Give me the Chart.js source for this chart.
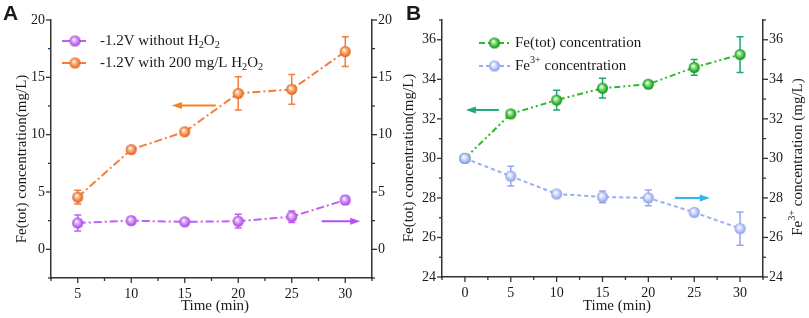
<!DOCTYPE html>
<html>
<head>
<meta charset="utf-8">
<script src="https://cdn.jsdelivr.net/npm/chart.js@4.4.0/dist/chart.umd.min.js"></script>
<style>
    html, body { margin: 0; padding: 0; background: #fff; }
    #wrap { position: relative; width: 809px; height: 318px; }
    #boxA { position: absolute; left: 0; top: 0; width: 400px; height: 318px; }
    #boxB { position: absolute; left: 400px; top: 0; width: 409px; height: 318px; }
</style>
</head>
<body>
<div id="wrap">
    <div id="boxA"><canvas id="chartA"></canvas></div>
    <div id="boxB"><canvas id="chartB"></canvas></div>
</div>
<script>
// Painel A
const timeA = [5, 10, 15, 20, 25, 30];
const noH2O2 = [2.3, 2.5, 2.4, 2.45, 2.85, 4.3];
const noH2O2Err = [0.7, 0.3, 0.15, 0.6, 0.5, 0.35];
const withH2O2 = [4.55, 8.7, 10.25, 13.6, 13.95, 17.25];
const withH2O2Err = [0.6, 0.15, 0.1, 1.45, 1.3, 1.3];
const arrowAFrom = [17.9, 27.8];
const arrowATo = [13.8, 31.4];
const arrowAY = [12.55, 2.45];

// Painel B
const timeB = [0, 5, 10, 15, 20, 25, 30];
const feTot = [30.0, 32.25, 32.95, 33.55, 33.75, 34.6, 35.25];
const feTotErr = [0, 0.08, 0.5, 0.5, 0.18, 0.4, 0.9];
const fe3 = [30.0, 29.1, 28.2, 28.05, 28.0, 27.27, 26.45];
const fe3Err = [0, 0.5, 0.06, 0.3, 0.4, 0.12, 0.84];
const arrowBFrom = [3.7, 22.9];
const arrowBTo = [0.1, 26.7];
const arrowBY = [32.45, 28.0];

const SERIF = '"Liberation Serif", "Times New Roman", serif';

const toPoints = (xs, ys) => xs.map((x, i) => ({ x, y: ys[i] }));

// bolinha com brilho (estilo do Origin)
const ball = (light, base, dark, r) => {
    const c = document.createElement('canvas');
    const s = Math.ceil(r * 2 + 2);
    c.width = s; c.height = s;
    const g = c.getContext('2d');
    const grd = g.createRadialGradient(s / 2 - r * 0.25, s / 2 - r * 0.3, r * 0.05, s / 2, s / 2, r);
    grd.addColorStop(0, '#ffffff');
    grd.addColorStop(0.3, light);
    grd.addColorStop(0.75, base);
    grd.addColorStop(1, dark);
    g.fillStyle = grd;
    g.beginPath();
    g.arc(s / 2, s / 2, r, 0, Math.PI * 2);
    g.fill();
    return c;
};

const ballPurple = ball('#e2b5fb', '#c067f2', '#9b3fd6', 5.5);
const ballOrange = ball('#fbc39a', '#f27d3a', '#d9601d', 5.5);
const ballGreen = ball('#9fe39f', '#2eb52e', '#178a17', 5.5);
const ballBlue = ball('#dfe6ff', '#a9b8f6', '#8295e8', 5.5);

// desenha texto com sub/sobrescritos
const runsWidth = (ctx, runs, size) => runs.reduce((w, r) => {
    ctx.font = `${r[1] ? size * 0.68 : size}px ${SERIF}`;
    return w + ctx.measureText(r[0]).width;
}, 0);

const drawRuns = (ctx, runs, x, y, size) => {
    let cx = x;
    runs.forEach(r => {
        ctx.font = `${r[1] ? size * 0.68 : size}px ${SERIF}`;
        const dy = r[1] === 'sub' ? size * 0.28 : r[1] === 'sup' ? -size * 0.38 : 0;
        ctx.fillText(r[0], cx, y + dy);
        cx += ctx.measureText(r[0]).width;
    });
};

const errorBars = {
    id: 'errorBars',
    beforeDatasetsDraw(chart) {
        const ctx = chart.ctx;
        chart.data.datasets.forEach((ds, i) => {
            if (!ds.errors) return;
            const meta = chart.getDatasetMeta(i);
            const ys = chart.scales[ds.yAxisID];
            ctx.save();
            ctx.strokeStyle = ds.errorColor;
            ctx.lineWidth = 1.5;
            meta.data.forEach((pt, j) => {
                const e = ds.errors[j];
                if (!e) return;
                const v = ds.data[j].y;
                const top = ys.getPixelForValue(v + e);
                const bot = ys.getPixelForValue(v - e);
                ctx.beginPath();
                ctx.moveTo(pt.x, top); ctx.lineTo(pt.x, bot);
                ctx.moveTo(pt.x - 3.5, top); ctx.lineTo(pt.x + 3.5, top);
                ctx.moveTo(pt.x - 3.5, bot); ctx.lineTo(pt.x + 3.5, bot);
                ctx.stroke();
            });
            ctx.restore();
        });
    }
};

// ticks maiores e menores, desenhados à mão
const axisTicks = {
    id: 'axisTicks',
    afterDraw(chart, args, opts) {
        const ctx = chart.ctx;
        ctx.save();
        ctx.strokeStyle = '#333';
        ctx.lineWidth = 1.3;
        Object.values(chart.scales).forEach(sc => {
            const major = opts.majors[sc.id];
            sc.ticks.forEach(t => {
                const q = t.value / major;
                const len = Math.abs(q - Math.round(q)) < 1e-6 ? 5 : 3;
                const p = sc.getPixelForValue(t.value);
                ctx.beginPath();
                if (sc.axis === 'x') { ctx.moveTo(p, sc.top); ctx.lineTo(p, sc.top + len); }
                else if (sc.position === 'left') { ctx.moveTo(sc.right, p); ctx.lineTo(sc.right - len, p); }
                else { ctx.moveTo(sc.left, p); ctx.lineTo(sc.left + len, p); }
                ctx.stroke();
            });
        });
        ctx.restore();
    }
};

// títulos, legenda, setas e letra do painel
const decorations = {
    id: 'decorations',
    afterDraw(chart, args, opts) {
        const ctx = chart.ctx;
        const xs = chart.scales.x;
        ctx.save();
        ctx.fillStyle = '#1a1a1a';

        // letra do painel
        ctx.font = `bold 21px "Liberation Sans", Arial, sans-serif`;
        ctx.textBaseline = 'alphabetic';
        ctx.fillText(opts.letter, opts.letterX, 20);
        ctx.textBaseline = 'middle';

        // títulos dos eixos
        opts.titles.forEach(t => {
            const w = runsWidth(ctx, t.runs, 15);
            ctx.save();
            ctx.translate(t.x, t.y);
            if (t.rot) ctx.rotate(-Math.PI / 2);
            drawRuns(ctx, t.runs, -w / 2, 0, 15);
            ctx.restore();
        });

        // legenda
        opts.legend.forEach((item, i) => {
            const ds = chart.data.datasets[item.ds];
            const y = opts.legendY[i];
            ctx.save();
            ctx.strokeStyle = ds.borderColor;
            ctx.lineWidth = 2;
            ctx.setLineDash(ds.borderDash);
            ctx.beginPath();
            ctx.moveTo(opts.legendLine[0], y);
            ctx.lineTo(opts.legendLine[1], y);
            ctx.stroke();
            ctx.restore();
            const img = ds.pointStyle;
            const cx = (opts.legendLine[0] + opts.legendLine[1]) / 2;
            ctx.drawImage(img, cx - img.width / 2, y - img.height / 2);
            ctx.fillStyle = '#1a1a1a';
            drawRuns(ctx, item.runs, opts.legendText, y, 15);
        });

        // setas
        opts.arrows.forEach(a => {
            const ys = chart.scales[a.axis];
            a.from.forEach((f, i) => {
                const x1 = xs.getPixelForValue(f);
                const x2 = xs.getPixelForValue(a.to[i]);
                const y = ys.getPixelForValue(a.y[i]);
                const dir = Math.sign(x2 - x1);
                const color = a.colors[i];
                ctx.strokeStyle = color;
                ctx.fillStyle = color;
                ctx.lineWidth = 2;
                ctx.beginPath();
                ctx.moveTo(x1, y);
                ctx.lineTo(x2 - dir * 6, y);
                ctx.stroke();
                ctx.beginPath();
                ctx.moveTo(x2, y);
                ctx.lineTo(x2 - dir * 10, y - 3.5);
                ctx.lineTo(x2 - dir * 10, y + 3.5);
                ctx.closePath();
                ctx.fill();
            });
        });
        ctx.restore();
    }
};

const tickFont = { family: SERIF, size: 14 };
const labelEvery = major => v => (Math.abs(v / major - Math.round(v / major)) < 1e-6 ? Math.round(v) : '');

const axis = (position, min, max, step, major, size) => ({
    type: 'linear',
    position,
    min, max,
    border: { display: true, color: '#333', width: 1.5 },
    grid: { drawOnChartArea: false, drawTicks: false },
    ticks: {
        stepSize: step,
        autoSkip: false,
        maxRotation: 0,
        padding: position === 'bottom' ? 8 : 6,
        color: '#1a1a1a',
        font: tickFont,
        callback: labelEvery(major)
    },
    afterFit: (sc) => {
        if (position === 'bottom') sc.height = size; else sc.width = size;
    }
});

const line = (label, pts, color, dash, img, errors, errorColor, yAxisID, order) => ({
    label,
    data: pts,
    borderColor: color,
    borderWidth: 2,
    borderDash: dash,
    pointStyle: img,
    pointRadius: 5.5,
    pointHoverRadius: 5.5,
    fill: false,
    tension: 0,
    errors,
    errorColor,
    yAxisID,
    order
});

const baseOptions = {
    responsive: true,
    maintainAspectRatio: false,
    animation: false,
    events: [],
    plugins: { legend: { display: false }, tooltip: { enabled: false } }
};

new Chart(document.getElementById('chartA'), {
    type: 'line',
    data: {
        datasets: [
            line('-1.2V without H2O2', toPoints(timeA, noH2O2), '#c05ff2', [8, 3, 2, 3], ballPurple, noH2O2Err, '#c05ff2', 'y', 0),
            line('-1.2V with 200 mg/L H2O2', toPoints(timeA, withH2O2), '#f37e3b', [8, 3, 2, 3], ballOrange, withH2O2Err, '#f37e3b', 'y', 1)
        ]
    },
    options: {
        ...baseOptions,
        layout: { padding: { top: 20, left: 0, right: 0, bottom: 0 } },
        scales: {
            x: axis('bottom', 2.5, 32.5, 2.5, 5, 40),
            y: axis('left', -2.5, 20, 2.5, 5, 51),
            y1: axis('right', -2.5, 20, 2.5, 5, 28)
        },
        plugins: {
            ...baseOptions.plugins,
            axisTicks: { majors: { x: 5, y: 5, y1: 5 } },
            decorations: {
                letter: 'A', letterX: 3,
                titles: [
                    { runs: [['Fe(tot) concentration(mg/L)']], x: 22, y: 159, rot: true },
                    { runs: [['Time (min)']], x: 215, y: 306, rot: false }
                ],
                legend: [
                    { ds: 0, runs: [['-1.2V without H'], ['2', 'sub'], ['O'], ['2', 'sub']] },
                    { ds: 1, runs: [['-1.2V with 200 mg/L H'], ['2', 'sub'], ['O'], ['2', 'sub']] }
                ],
                legendY: [41, 63],
                legendLine: [62, 88],
                legendText: 100,
                arrows: [{ axis: 'y', from: arrowAFrom, to: arrowATo, y: arrowAY, colors: ['#f5821f', '#b74ff2'] }]
            }
        }
    },
    plugins: [errorBars, axisTicks, decorations]
});

new Chart(document.getElementById('chartB'), {
    type: 'line',
    data: {
        datasets: [
            line('Fe(tot) concentration', toPoints(timeB, feTot), '#2db82d', [6, 3, 2, 3, 2, 3], ballGreen, feTotErr, '#1ea571', 'y', 1),
            line('Fe3+ concentration', toPoints(timeB, fe3), '#9aaef5', [4, 3], ballBlue, fe3Err, '#93a6f2', 'y1', 0)
        ]
    },
    options: {
        ...baseOptions,
        layout: { padding: { top: 20, left: 0, right: 0, bottom: 0 } },
        scales: {
            x: axis('bottom', -2.5, 32.5, 2.5, 5, 41),
            y: axis('left', 24, 37, 1, 2, 42),
            y1: axis('right', 24, 37, 1, 2, 46)
        },
        plugins: {
            ...baseOptions.plugins,
            axisTicks: { majors: { x: 5, y: 2, y1: 2 } },
            decorations: {
                letter: 'B', letterX: 6,
                titles: [
                    { runs: [['Fe(tot) concentration(mg/L)']], x: 9, y: 158, rot: true },
                    { runs: [['Time (min)']], x: 217, y: 306, rot: false },
                    { runs: [['Fe'], ['3+', 'sup'], [' concentration (mg/L)']], x: 398, y: 157, rot: true }
                ],
                legend: [
                    { ds: 0, runs: [['Fe(tot) concentration']] },
                    { ds: 1, runs: [['Fe'], ['3+', 'sup'], [' concentration']] }
                ],
                legendY: [43, 66],
                legendLine: [79, 110],
                legendText: 115,
                arrows: [
                    { axis: 'y', from: [arrowBFrom[0]], to: [arrowBTo[0]], y: [arrowBY[0]], colors: ['#1fa872'] },
                    { axis: 'y1', from: [arrowBFrom[1]], to: [arrowBTo[1]], y: [arrowBY[1]], colors: ['#2fb4ee'] }
                ]
            }
        }
    },
    plugins: [errorBars, axisTicks, decorations]
});
</script>
</body>
</html>
